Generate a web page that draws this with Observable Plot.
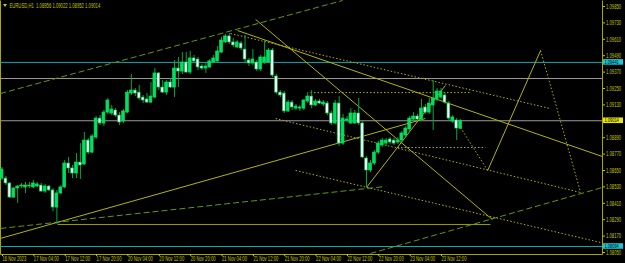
<!DOCTYPE html>
<html><head><meta charset="utf-8">
<script src="https://cdn.jsdelivr.net/npm/d3@7"></script>
<script src="https://cdn.jsdelivr.net/npm/@observablehq/plot@0.6"></script>
<style>
html,body{margin:0;padding:0;background:#000;overflow:hidden}
svg{display:block}
</style></head><body><div id="chart"></div>
<script>
// EURUSD H1 bars, 16 Nov 2023 20:00 .. 23 Nov 2023 17:00
const opens  = [1.08591,1.08591,1.08555,1.08452,1.08518,1.08533,1.08526,1.08540,1.08526,1.08533,1.08540,1.08496,1.08533,1.08504,1.08379,1.08482,1.08526,1.08701,1.08665,1.08628,1.08708,1.08694,1.08869,1.08781,1.08891,1.09030,1.08994,1.09074,1.09067,1.09089,1.09052,1.09008,1.09074,1.09213,1.09235,1.09220,1.09184,1.09170,1.09147,1.09184,1.09360,1.09257,1.09220,1.09294,1.09257,1.09396,1.09374,1.09440,1.09367,1.09470,1.09462,1.09411,1.09396,1.09404,1.09440,1.09448,1.09513,1.09587,1.09631,1.09587,1.09550,1.09579,1.09535,1.09455,1.09433,1.09440,1.09389,1.09440,1.09440,1.09528,1.09338,1.09220,1.09213,1.09082,1.09147,1.09103,1.09111,1.09103,1.09155,1.09191,1.09126,1.09155,1.09133,1.09140,1.09067,1.08994,1.09140,1.08847,1.09016,1.08994,1.08994,1.09067,1.08994,1.08738,1.08650,1.08701,1.08781,1.08833,1.08847,1.08877,1.08869,1.08855,1.08869,1.08906,1.08950,1.09023,1.09045,1.09023,1.09111,1.09074,1.09126,1.09170,1.09184,1.09199,1.09140,1.09008,1.09016,1.08956];
const highs  = [1.08672,1.08606,1.08562,1.08526,1.08540,1.08555,1.08562,1.08562,1.08577,1.08562,1.08555,1.08548,1.08540,1.08518,1.08504,1.08540,1.08723,1.08745,1.08687,1.08774,1.08847,1.08928,1.08884,1.08913,1.09045,1.09052,1.09089,1.09177,1.09126,1.09103,1.09074,1.09096,1.09235,1.09352,1.09250,1.09272,1.09199,1.09213,1.09294,1.09396,1.09367,1.09308,1.09308,1.09323,1.09455,1.09477,1.09513,1.09513,1.09521,1.09492,1.09477,1.09426,1.09440,1.09462,1.09492,1.09557,1.09623,1.09645,1.09652,1.09616,1.09601,1.09594,1.09638,1.09470,1.09535,1.09455,1.09492,1.09601,1.09543,1.09543,1.09352,1.09235,1.09228,1.09162,1.09162,1.09133,1.09126,1.09170,1.09220,1.09235,1.09170,1.09170,1.09162,1.09155,1.09082,1.09162,1.09191,1.09060,1.09045,1.09103,1.09089,1.09177,1.09008,1.08752,1.08723,1.08796,1.08862,1.08884,1.08884,1.08891,1.08884,1.08891,1.08935,1.08972,1.09045,1.09074,1.09060,1.09170,1.09133,1.09177,1.09308,1.09250,1.09250,1.09220,1.09155,1.09052,1.09030,1.09022];
const lows   = [1.08577,1.08540,1.08445,1.08445,1.08409,1.08518,1.08482,1.08518,1.08518,1.08526,1.08489,1.08482,1.08496,1.08350,1.08255,1.08474,1.08518,1.08628,1.08591,1.08591,1.08584,1.08687,1.08767,1.08774,1.08877,1.08979,1.08972,1.09060,1.09052,1.09038,1.08979,1.08994,1.09067,1.09199,1.09191,1.09162,1.09140,1.09140,1.09140,1.09177,1.09235,1.09213,1.09199,1.09250,1.09184,1.09257,1.09352,1.09360,1.09352,1.09440,1.09382,1.09382,1.09360,1.09396,1.09433,1.09440,1.09506,1.09579,1.09572,1.09550,1.09543,1.09528,1.09433,1.09411,1.09418,1.09374,1.09374,1.09426,1.09433,1.09330,1.09206,1.09184,1.09067,1.09074,1.09089,1.09089,1.09082,1.09089,1.09140,1.09103,1.09118,1.09133,1.09118,1.09052,1.08979,1.08986,1.08826,1.08833,1.09001,1.08986,1.08986,1.08979,1.08738,1.08526,1.08635,1.08687,1.08767,1.08818,1.08826,1.08840,1.08833,1.08840,1.08855,1.08891,1.08935,1.09008,1.09008,1.09008,1.09060,1.09060,1.08943,1.09155,1.09170,1.09133,1.09016,1.08994,1.08869,1.08952];
const closes = [1.08657,1.08555,1.08452,1.08518,1.08533,1.08540,1.08540,1.08533,1.08555,1.08548,1.08496,1.08533,1.08504,1.08379,1.08482,1.08526,1.08701,1.08665,1.08628,1.08708,1.08687,1.08869,1.08781,1.08899,1.09030,1.08994,1.09074,1.09162,1.09096,1.09052,1.09001,1.09082,1.09220,1.09235,1.09213,1.09177,1.09162,1.09147,1.09191,1.09360,1.09257,1.09220,1.09294,1.09257,1.09396,1.09374,1.09440,1.09367,1.09470,1.09448,1.09404,1.09396,1.09411,1.09448,1.09470,1.09521,1.09601,1.09631,1.09587,1.09565,1.09587,1.09543,1.09462,1.09433,1.09462,1.09389,1.09477,1.09477,1.09528,1.09345,1.09220,1.09199,1.09082,1.09147,1.09111,1.09118,1.09103,1.09162,1.09191,1.09126,1.09155,1.09140,1.09147,1.09067,1.08994,1.09140,1.08847,1.09030,1.09023,1.09067,1.09067,1.08994,1.08745,1.08650,1.08701,1.08781,1.08847,1.08869,1.08869,1.08855,1.08847,1.08869,1.08921,1.08957,1.09030,1.09045,1.09023,1.09103,1.09074,1.09140,1.09177,1.09228,1.09228,1.09147,1.09030,1.09038,1.08957,1.09014];

// time axis: bar index of each label
const timeTickBars = [0,8,16,24,32,40,48,56,64,72,80,88,96,104,112];
const timeTickLabels = ["16 Nov 2023","17 Nov 04:00","17 Nov 12:00","17 Nov 20:00","20 Nov 04:00","20 Nov 12:00","20 Nov 20:00","21 Nov 04:00","21 Nov 12:00","21 Nov 20:00","22 Nov 04:00","22 Nov 12:00","22 Nov 20:00","23 Nov 04:00","23 Nov 12:00"];
const priceTicks = [1.09850,1.09730,1.09610,1.09490,1.09370,1.09250,1.09130,1.09010,1.08890,1.08770,1.08650,1.08530,1.08410,1.08290,1.08170,1.08050];
const hiddenPriceLabels = [1.09010]; // covered by the bid tag

// horizontal levels
const cyanLevels = [1.09441, 1.08094];
const grayLevels = [1.09323, 1.09014];
const bidPrice = 1.09014;

// drawn objects: [barFrom, priceFrom, barTo, priceTo]
const solidTrend = [
  [-0.4, 1.08153, 108.0, 1.09030],
  [60.1, 1.09674, 153.2, 1.08752],
  [64.7, 1.09755, 125.1, 1.08291],
  [93.0, 1.08526, 113.1, 1.09272],
  [123.9, 1.08650, 137.4, 1.09528]
];
const flatSupport = [[14.2, 1.08255, 124.6, 1.08255]];
const dottedTrend = [
  [58.3, 1.09652, 139.9, 1.09103],
  [69.8, 1.09030, 147.6, 1.08489],
  [74.9, 1.08650, 152.7, 1.08123],
  [78.7, 1.09220, 119.5, 1.09220],
  [100.9, 1.08818, 123.3, 1.08818],
  [116.5, 1.08986, 123.9, 1.08650],
  [137.4, 1.09528, 147.6, 1.08489]
];
const dashedTrend = [
  [-0.4, 1.08226, 97.8, 1.08533],
  [-0.4, 1.09213, 86.9, 1.09894],
  [94.0, 1.08043, 153.2, 1.08526]
];

const title = "EURUSD,H1  1.08956 1.09022 1.08952 1.09014";

const candles = opens.map((o, i) => ({i, o, h: highs[i], l: lows[i], c: closes[i], up: closes[i] >= o}));
const seg = a => a.map(([x1, y1, x2, y2]) => ({x1, y1, x2, y2}));

const AX = "#c8c800";
const FONT = "Liberation Sans, Arial, sans-serif";
const W = 625, H = 263, MR = 23, MB = 9;
const plot = Plot.plot({
  width: W, height: H,
  marginLeft: 0, marginRight: MR, marginTop: 0, marginBottom: MB,
  style: {background: "#000", color: AX, fontFamily: FONT, fontSize: "7px"},
  x: {type: "linear", domain: [0, 100], range: [1.5, 393.5]},
  y: {type: "linear", domain: [1.0805, 1.0985], range: [252, 6]},
  color: {type: "identity"},
  marks: [
    // frame without its top edge (MT4 draws left, right and bottom borders only)
    Plot.frame({stroke: "#a8a800", strokeWidth: 1, strokeDasharray: `0,${W - MR},${4 * W}`}),
    Plot.ruleY(grayLevels, {stroke: "#9a9a9a", strokeWidth: 1}),
    Plot.ruleY(cyanLevels, {stroke: "#1aa6b4", strokeWidth: 1}),
    Plot.link(seg(flatSupport), {x1: "x1", y1: "y1", x2: "x2", y2: "y2", stroke: "#9c9c00", strokeWidth: 1, clip: true}),
    Plot.link(seg(dashedTrend), {x1: "x1", y1: "y1", x2: "x2", y2: "y2", stroke: "#5c9a10", strokeWidth: 1, strokeDasharray: "6,3", clip: true}),
    Plot.link(seg(dottedTrend), {x1: "x1", y1: "y1", x2: "x2", y2: "y2", stroke: "#b0b000", strokeWidth: 1, strokeDasharray: "1.5,2", clip: true}),
    Plot.link(seg(solidTrend), {x1: "x1", y1: "y1", x2: "x2", y2: "y2", stroke: "#b4b400", strokeWidth: 1, clip: true}),
    Plot.ruleX(candles, {x: "i", y1: "l", y2: "h", stroke: "#00a83c", strokeWidth: 1}),
    Plot.rect(candles, {x1: d => d.i - 0.36, x2: d => d.i + 0.36, y1: "o", y2: "c",
      fill: d => d.up ? "#00e060" : "#ffffff", stroke: d => d.up ? "#00e060" : "#00b848", strokeWidth: 0.7}),
    Plot.axisX({ticks: timeTickBars, tickFormat: (d) => timeTickLabels[timeTickBars.indexOf(d)], tickSize: 2, tickPadding: 0, textAnchor: "start", dx: 0.5, stroke: AX, fill: AX, fontSize: 7}),
    Plot.axisY({anchor: "right", ticks: priceTicks, tickFormat: d => hiddenPriceLabels.includes(d) ? "" : d.toFixed(5), tickSize: 2, tickPadding: 1.5, stroke: AX, fill: AX, fontSize: 7}),
    Plot.text([title], {frameAnchor: "top-left", dx: 9, dy: 2.5, lineAnchor: "top", textAnchor: "start", fill: AX, fontSize: 7})
  ]
});
document.getElementById("chart").appendChild(plot);

// MT4 uses a narrow bitmap font: condense every label horizontally about its own anchor
function condense(root, k) {
  root.querySelectorAll("text").forEach(t => {
    const x = +(t.getAttribute("x") || 0);
    const tr = t.getAttribute("transform") || "";
    t.setAttribute("transform", `${tr} translate(${x},0) scale(${k},1) translate(${-x},0)`.trim());
  });
}
condense(plot, 0.6);

// current-price and level tags on the price axis
const ys = plot.scale("y");
const svg = d3.select(plot);
const tags = svg.append("g");
[[cyanLevels[0], "#14c8d8"], [bidPrice, "#e8e800"], [cyanLevels[1], "#14c8d8"]].forEach(([p, col]) => {
  const y = ys.apply(p);
  tags.append("rect").attr("x", 603).attr("y", y - 2.8).attr("width", 20).attr("height", 5.6).attr("fill", col);
  tags.append("text").attr("x", 604.5).attr("y", y).attr("dy", "0.35em").attr("fill", "#000")
    .attr("text-anchor", "start").attr("font-size", 5.5).attr("font-family", FONT).text(p.toFixed(5));
});
condense(tags.node(), 0.72);
// small menu triangle before the title
svg.append("path").attr("d", "M3,4 L7,4 L5,7 Z").attr("fill", AX);
</script></body></html>
